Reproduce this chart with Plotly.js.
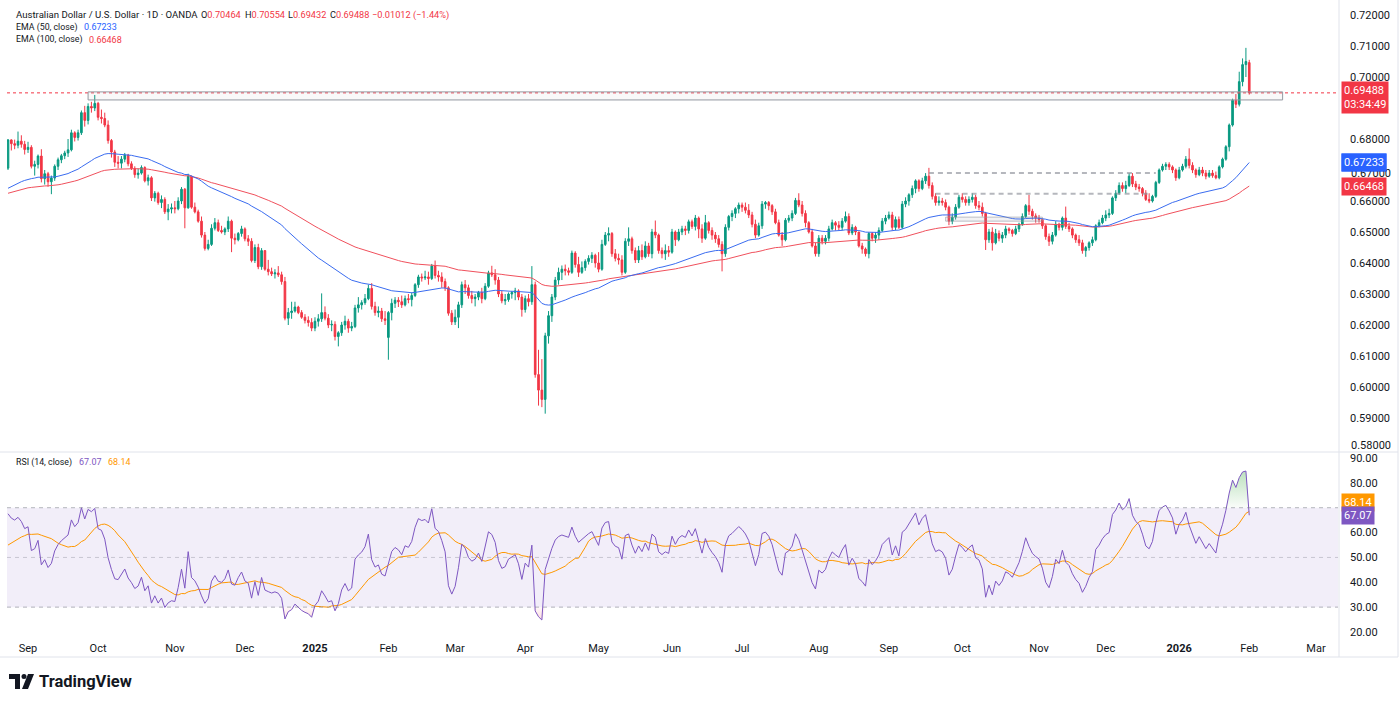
<!DOCTYPE html>
<html>
<head>
<meta charset="utf-8">
<script src="https://cdn.plot.ly/plotly-3.0.1.min.js"></script>
<style>
html,body{margin:0;padding:0;background:#ffffff;}
#chart{width:1400px;height:704px;}
</style>
</head>
<body>
<div id="chart"></div>
<script>
// ---------------- DATA ----------------
const firstDate = '2024-08-23';
const holidays = ['2024-12-25', '2025-01-01', '2025-12-25', '2026-01-01'];
const firstOpen = 0.6706;
const gapOpenDates = ['2025-02-03', '2026-02-02'];
const gapOpenValues = [0.6160, 0.70464];

const closes = [
 .6797,.6785,.6780,.6793,.6783,.6766,
 .6773,.6712,.6718,.6745,.6672,.6688,.6662,.6674,.6712,.6733,.6746,.6755,.6765,.6820,.6805,.6820,.6885,.6860,.6905,.6900,.6915,
 .6870,.6866,.6845,.6795,.6758,.6725,.6722,.6735,.6748,.6720,.6705,.6685,.6690,.6708,.6665,.6675,.6610,.6625,.6595,.6605,.6565,.6574,.6578,
 .6575,.6600,.6638,.6578,.6680,.6580,.6565,.6535,.6490,.6447,.6460,.6512,.6530,.6505,.6500,.6510,.6535,.6480,.6475,.6495,.6510,
 .6478,.6470,.6408,.6450,.6388,.6440,.6380,.6372,.6365,.6368,.6362,.6340,.6222,.6240,.6245,.6258,.6240,.6225,.6215,.6208,.6190,
 .6212,.6220,.6240,.6222,.6200,.6202,.6163,.6175,.6200,.6212,.6190,.6195,.6255,.6265,.6272,.6285,.6318,.6260,.6240,.6245,.6220,.6215,
 .6240,.6270,.6280,.6275,.6265,.6285,.6282,.6295,.6330,.6355,.6352,.6355,.6350,.6390,.6360,.6355,.6340,.6320,.6238,.6210,
 .6225,.6265,.6330,.6320,.6295,.6285,.6290,.6305,.6285,.6325,.6368,.6362,.6345,.6300,.6278,.6282,.6300,.6305,.6310,.6290,.6250,
 .6285,.6275,.6330,.6040,.5990,.5960,.6165,.6230,.6290,.6345,.6370,.6380,.6375,.6370,.6432,.6395,.6370,.6385,.6405,.6415,.6425,.6400,
 .6380,.6460,.6490,.6495,.6430,.6415,.6410,.6370,.6470,.6478,.6440,.6410,.6440,.6420,.6455,.6430,.6500,.6490,.6440,.6430,.6440,.6435,
 .6500,.6475,.6500,.6510,.6505,.6533,.6518,.6545,.6510,.6480,.6530,.6505,.6490,.6478,.6460,.6430,.6515,.6550,.6560,.6575,.6587,
 .6580,.6570,.6555,.6525,.6490,.6520,.6590,.6595,.6585,.6565,.6530,.6490,.6475,.6538,.6545,.6560,.6602,.6587,.6560,.6530,.6500,.6455,.6430,
 .6480,.6470,.6480,.6510,.6530,.6522,.6515,.6535,.6550,.6497,.6515,.6500,.6455,.6445,.6430,.6495,.6480,.6490,.6505,.6535,.6545,
 .6555,.6515,.6540,.6515,.6590,.6600,.6620,.6640,.6665,.6640,.6665,.6680,.6650,.6615,.6595,.6600,.6595,.6580,.6535,.6548,.6580,.6612,
 .6605,.6595,.6605,.6612,.6585,.6580,.6560,.6475,.6500,.6465,.6495,.6480,.6490,.6510,.6505,.6495,.6510,.6525,.6550,.6585,.6567,.6552,.6545,
 .6540,.6520,.6485,.6470,.6490,.6525,.6515,.6545,.6518,.6510,.6490,.6475,.6465,.6440,.6450,.6465,.6475,.6520,.6530,.6545,
 .6555,.6560,.6610,.6625,.6650,.6640,.6650,.6680,.6655,.6645,.6640,.6625,.6605,.6600,.6615,.6660,.6700,.6712,.6718,.6710,.6700,.6675,
 .6700,.6712,.6735,.6715,.6700,.6685,.6700,.6690,.6680,.6690,.6682,.6675,.6710,.6735,.6775,.6845,.6925,.6912,.6985,.7040,.7050,.69488
];
const highs = [
 .6800,.6799,.6798,.6824,.6812,.6794,
 .6791,.6780,.6730,.6750,.6767,.6700,.6694,.6682,.6718,.6740,.6752,.6762,.6800,.6830,.6825,.6830,.6892,.6907,.6915,.6920,.6942,
 .6920,.6895,.6885,.6860,.6800,.6765,.6745,.6745,.6755,.6752,.6728,.6712,.6705,.6715,.6712,.6685,.6680,.6632,.6630,.6618,.6612,.6590,.6592,
 .6600,.6612,.6645,.6642,.6688,.6682,.6595,.6572,.6550,.6500,.6475,.6525,.6545,.6540,.6520,.6515,.6550,.6540,.6495,.6500,.6520,
 .6515,.6490,.6480,.6460,.6462,.6448,.6440,.6410,.6385,.6380,.6390,.6372,.6355,.6255,.6275,.6275,.6262,.6248,.6235,.6228,.6222,
 .6225,.6235,.6302,.6260,.6235,.6215,.6212,.6180,.6210,.6230,.6220,.6210,.6265,.6290,.6280,.6300,.6330,.6335,.6275,.6260,.6255,.6245,
 .6245,.6285,.6290,.6290,.6295,.6295,.6300,.6305,.6335,.6362,.6366,.6375,.6372,.6397,.6408,.6375,.6370,.6350,.6325,.6248,
 .6250,.6275,.6340,.6345,.6330,.6310,.6300,.6310,.6320,.6335,.6375,.6391,.6380,.6355,.6310,.6300,.6305,.6310,.6320,.6315,.6300,
 .6295,.6300,.6390,.6340,.6120,.6090,.6175,.6245,.6300,.6355,.6385,.6392,.6395,.6385,.6440,.6438,.6420,.6405,.6412,.6425,.6435,.6430,
 .6435,.6475,.6500,.6515,.6500,.6445,.6430,.6425,.6480,.6515,.6485,.6450,.6455,.6460,.6470,.6465,.6510,.6537,.6495,.6450,.6460,.6455,
 .6510,.6505,.6510,.6520,.6520,.6540,.6540,.6555,.6550,.6525,.6555,.6535,.6515,.6500,.6490,.6470,.6525,.6555,.6570,.6580,.6595,
 .6595,.6595,.6590,.6565,.6540,.6530,.6600,.6600,.6600,.6590,.6575,.6540,.6500,.6545,.6555,.6570,.6610,.6625,.6600,.6570,.6535,.6510,.6465,
 .6490,.6490,.6490,.6520,.6540,.6535,.6535,.6545,.6566,.6560,.6525,.6520,.6500,.6465,.6450,.6500,.6500,.6500,.6515,.6545,.6555,
 .6566,.6565,.6550,.6550,.6600,.6612,.6625,.6650,.6670,.6670,.6675,.6690,.6707,.6660,.6625,.6615,.6610,.6605,.6585,.6560,.6590,.6620,
 .6625,.6615,.6615,.6625,.6620,.6600,.6595,.6565,.6510,.6515,.6510,.6505,.6500,.6520,.6515,.6510,.6520,.6530,.6560,.6590,.6620,.6575,.6560,
 .6555,.6545,.6525,.6495,.6500,.6535,.6530,.6550,.6582,.6530,.6515,.6495,.6490,.6475,.6455,.6470,.6485,.6525,.6540,.6555,
 .6570,.6575,.6615,.6635,.6660,.6660,.6665,.6690,.6690,.6665,.6655,.6645,.6635,.6625,.6620,.6665,.6705,.6720,.6725,.6725,.6715,.6705,
 .6710,.6720,.6745,.6770,.6725,.6705,.6710,.6710,.6700,.6700,.6700,.6695,.6715,.6740,.6780,.6850,.6930,.6945,.7017,.7060,.7094,.70554
];
const lows = [
 .6700,.6763,.6767,.6770,.6772,.6750,
 .6755,.6705,.6682,.6705,.6660,.6653,.6646,.6622,.6665,.6700,.6722,.6735,.6742,.6760,.6792,.6795,.6813,.6840,.6847,.6885,.6890,
 .6860,.6850,.6838,.6785,.6740,.6710,.6705,.6705,.6725,.6712,.6700,.6675,.6672,.6685,.6660,.6650,.6600,.6598,.6588,.6577,.6558,.6538,.6560,
 .6560,.6570,.6590,.6512,.6575,.6575,.6560,.6530,.6482,.6440,.6441,.6455,.6505,.6500,.6495,.6490,.6500,.6435,.6460,.6470,.6485,
 .6470,.6455,.6402,.6400,.6380,.6378,.6375,.6360,.6358,.6350,.6355,.6330,.6215,.6200,.6220,.6240,.6235,.6220,.6205,.6195,.6180,
 .6180,.6195,.6210,.6215,.6190,.6180,.6150,.6131,.6165,.6185,.6175,.6180,.6190,.6240,.6250,.6265,.6280,.6250,.6230,.6225,.6210,.6200,
 .6088,.6215,.6255,.6258,.6255,.6260,.6270,.6260,.6290,.6320,.6340,.6345,.6330,.6345,.6350,.6340,.6320,.6310,.6230,.6200,
 .6200,.6190,.6255,.6300,.6285,.6270,.6260,.6280,.6270,.6280,.6320,.6355,.6330,.6290,.6270,.6265,.6275,.6285,.6280,.6280,.6227,
 .6240,.6260,.6265,.6030,.5940,.5935,.5914,.6140,.6210,.6280,.6330,.6345,.6360,.6360,.6365,.6385,.6355,.6365,.6375,.6395,.6400,.6385,
 .6370,.6375,.6455,.6470,.6420,.6405,.6395,.6360,.6365,.6455,.6430,.6400,.6400,.6410,.6415,.6420,.6415,.6480,.6430,.6415,.6410,.6420,
 .6430,.6455,.6470,.6490,.6490,.6495,.6510,.6505,.6480,.6465,.6475,.6495,.6475,.6465,.6450,.6373,.6420,.6505,.6535,.6545,.6560,
 .6565,.6560,.6545,.6515,.6480,.6485,.6510,.6575,.6570,.6555,.6525,.6485,.6455,.6470,.6530,.6535,.6555,.6580,.6550,.6515,.6495,.6450,.6421,
 .6420,.6460,.6460,.6470,.6505,.6505,.6505,.6505,.6530,.6490,.6490,.6490,.6450,.6430,.6421,.6415,.6470,.6465,.6475,.6500,.6525,
 .6540,.6505,.6505,.6510,.6510,.6580,.6585,.6610,.6625,.6630,.6635,.6655,.6640,.6605,.6585,.6585,.6585,.6570,.6522,.6525,.6540,.6575,
 .6595,.6585,.6585,.6595,.6575,.6570,.6550,.6442,.6465,.6440,.6460,.6470,.6465,.6480,.6495,.6485,.6490,.6500,.6520,.6545,.6555,.6540,.6530,
 .6530,.6510,.6475,.6455,.6460,.6485,.6505,.6505,.6510,.6500,.6480,.6465,.6455,.6430,.6420,.6440,.6455,.6470,.6515,.6525,
 .6535,.6545,.6555,.6600,.6620,.6630,.6625,.6645,.6645,.6635,.6630,.6615,.6600,.6593,.6595,.6610,.6655,.6695,.6700,.6700,.6690,.6665,
 .6670,.6695,.6705,.6705,.6690,.6675,.6680,.6680,.6670,.6675,.6675,.6670,.6670,.6705,.6730,.6760,.6840,.6900,.6905,.6970,.7000,.69432
];

// indicator seeds and legend values
const emaFastPeriod = 50, emaSlowPeriod = 100;
const emaFastSeed = 0.6641, emaSlowSeed = 0.6625;
const rsiPeriod = 14, rsiSeedGain = 0.0018, rsiSeedLoss = 0.0012, rsiMaSeed = 54;
const legendEmaFast = 0.67233, legendEmaSlow = 0.66468;
const legendRsi = 67.07, legendRsiMa = 68.14;
const countdown = '03:34:49';

// price-scale ticks (0.69000 and 70.00 sit under the value badges in the reference;
// 0.58000 and 0.67000 are drawn as labels nudged clear of the neighbouring texts)
const priceTicks = [0.59, 0.60, 0.61, 0.62, 0.63, 0.64, 0.65, 0.66, 0.68, 0.70, 0.71, 0.72];
const nudgedPriceLabels = [0.58, 0.67];
const nudgedPriceShift = [4, -3];
const rsiTicks = [20, 30, 40, 50, 60, 80, 90];

// analyst drawings
const boxDates = ['2024-09-26', '2026-02-16'];
const boxPrices = [0.6926, 0.6952];
const dashDatesA = ['2025-09-17', '2025-12-22'];
const dashPriceA = 0.6690;
const dashDatesB = ['2025-09-19', '2025-12-18'];
const dashPriceB = 0.6623;
const zoneDates = ['2025-09-24', '2025-11-04'];
const zonePrices = [0.6535, 0.6548];

// ---------------- CALENDAR ----------------
function tradingDays(start, count, skip) {
  const out = [];
  const d = new Date(start + 'T00:00:00Z');
  while (out.length < count) {
    const wd = d.getUTCDay();
    const s = d.toISOString().slice(0, 10);
    if (wd !== 0 && wd !== 6 && skip.indexOf(s) < 0) out.push(s);
    d.setUTCDate(d.getUTCDate() + 1);
  }
  return out;
}
const calendar = tradingDays(firstDate, 410, holidays);
const n = closes.length;
const dates = calendar.slice(0, n);
const xs = dates.map((d, i) => i);
const idx = d => calendar.indexOf(d);

const opens = closes.map((c, i) => {
  const g = gapOpenDates.indexOf(dates[i]);
  if (g >= 0) return gapOpenValues[g];
  return i === 0 ? firstOpen : closes[i - 1];
});

// month ticks
const monthNames = ['Jan','Feb','Mar','Apr','May','Jun','Jul','Aug','Sep','Oct','Nov','Dec'];
const tickvals = [], ticktext = [];
for (let i = 1; i < calendar.length; i++) {
  if (calendar[i].slice(5, 7) !== calendar[i - 1].slice(5, 7)) {
    const m = parseInt(calendar[i].slice(5, 7), 10);
    tickvals.push(i);
    ticktext.push(m === 1 ? '<b>' + calendar[i].slice(0, 4) + '</b>' : monthNames[m - 1]);
  }
}

// ---------------- INDICATORS ----------------
function ema(src, period, seed) {
  const k = 2 / (period + 1);
  let e = seed;
  return src.map((v, i) => { if (i > 0) e = v * k + e * (1 - k); return e; });
}
const emaFast = ema(closes, emaFastPeriod, emaFastSeed);
const emaSlow = ema(closes, emaSlowPeriod, emaSlowSeed);

const rsi = [];
{
  let ag = rsiSeedGain, al = rsiSeedLoss;
  for (let i = 0; i < n; i++) {
    const prev = i === 0 ? firstOpen : closes[i - 1];
    const ch = closes[i] - prev;
    ag = (ag * (rsiPeriod - 1) + Math.max(ch, 0)) / rsiPeriod;
    al = (al * (rsiPeriod - 1) + Math.max(-ch, 0)) / rsiPeriod;
    rsi.push(100 - 100 / (1 + ag / al));
  }
}
const rsiMa = rsi.map((v, i) => {
  let s = 0;
  for (let j = i - rsiPeriod + 1; j <= i; j++) s += j < 0 ? rsiMaSeed : rsi[j];
  return s / rsiPeriod;
});

// ---------------- LAYOUT HELPERS ----------------
const L = 7, R = 1338, T = 7, B = 640;
const px = x => (x - L) / (R - L);
const py = y => (B - y) / (B - T);
const FONT = 'Roboto, "Liberation Sans", Arial, sans-serif';
const TXT = '#131722';
const UP = '#089981', DOWN = '#F23645';

const traces = [
  {
    type: 'candlestick', x: xs, open: opens, high: highs, low: lows, close: closes,
    xaxis: 'x', yaxis: 'y', whiskerwidth: 0,
    increasing: { line: { color: UP, width: 1 }, fillcolor: UP },
    decreasing: { line: { color: DOWN, width: 1 }, fillcolor: DOWN },
    hoverinfo: 'skip'
  },
  { type: 'scatter', mode: 'lines', x: xs, y: emaSlow, yaxis: 'y', line: { color: '#F0505C', width: 1 }, hoverinfo: 'skip' },
  { type: 'scatter', mode: 'lines', x: xs, y: emaFast, yaxis: 'y', line: { color: '#3A6CF0', width: 1 }, hoverinfo: 'skip' },
  { type: 'scatter', mode: 'lines', x: xs, y: xs.map(() => 70), yaxis: 'y2', line: { width: 0 }, hoverinfo: 'skip' },
  { type: 'scatter', mode: 'lines', x: xs, y: rsi.map(v => Math.max(v, 70)), yaxis: 'y2', line: { width: 0 },
    fill: 'tonexty', fillcolor: 'rgba(76,175,80,0.25)',
    fillgradient: { type: 'vertical', start: 70, stop: 88, colorscale: [[0, 'rgba(76,175,80,0.03)'], [1, 'rgba(76,175,80,0.45)']] },
    hoverinfo: 'skip' },
  { type: 'scatter', mode: 'lines', x: xs, y: xs.map(() => 30), yaxis: 'y2', line: { width: 0 }, hoverinfo: 'skip' },
  { type: 'scatter', mode: 'lines', x: xs, y: rsi.map(v => Math.min(v, 30)), yaxis: 'y2', line: { width: 0 },
    fill: 'tonexty', fillcolor: 'rgba(242,54,69,0.2)',
    fillgradient: { type: 'vertical', start: 15, stop: 30, colorscale: [[0, 'rgba(242,54,69,0.45)'], [1, 'rgba(242,54,69,0.03)']] },
    hoverinfo: 'skip' },
  { type: 'scatter', mode: 'lines', x: xs, y: rsiMa, yaxis: 'y2', line: { color: '#FF9800', width: 1 }, hoverinfo: 'skip' },
  { type: 'scatter', mode: 'lines', x: xs, y: rsi, yaxis: 'y2', line: { color: '#7E57C2', width: 1 }, hoverinfo: 'skip' }
];

const grey = 'rgba(120,123,134,0.55)';
const shapes = [
  { type: 'rect', xref: 'paper', yref: 'y2', x0: 0, x1: 1, y0: 30, y1: 70, fillcolor: 'rgba(126,87,194,0.1)', line: { width: 0 }, layer: 'below' },
  { type: 'line', xref: 'paper', yref: 'y2', x0: 0, x1: 1, y0: 70, y1: 70, line: { color: grey, width: 1, dash: '4px,4px' } },
  { type: 'line', xref: 'paper', yref: 'y2', x0: 0, x1: 1, y0: 50, y1: 50, line: { color: 'rgba(120,123,134,0.35)', width: 1, dash: '4px,4px' } },
  { type: 'line', xref: 'paper', yref: 'y2', x0: 0, x1: 1, y0: 30, y1: 30, line: { color: grey, width: 1, dash: '4px,4px' } },
  { type: 'line', xref: 'paper', yref: 'y', x0: 0, x1: 1, y0: closes[n - 1], y1: closes[n - 1], line: { color: DOWN, width: 1, dash: 'dot' } },
  { type: 'rect', xref: 'x', yref: 'y', x0: idx(boxDates[0]), x1: idx(boxDates[1]), y0: boxPrices[0], y1: boxPrices[1],
    line: { color: '#9598A1', width: 1 }, fillcolor: 'rgba(149,152,161,0.06)' },
  { type: 'line', xref: 'x', yref: 'y', x0: idx(dashDatesA[0]), x1: idx(dashDatesA[1]), y0: dashPriceA, y1: dashPriceA,
    line: { color: 'rgba(149,152,161,0.7)', width: 2, dash: '5px,4px' } },
  { type: 'line', xref: 'x', yref: 'y', x0: idx(dashDatesB[0]), x1: idx(dashDatesB[1]), y0: dashPriceB, y1: dashPriceB,
    line: { color: 'rgba(149,152,161,0.7)', width: 2, dash: '5px,4px' } },
  { type: 'rect', xref: 'x', yref: 'y', x0: idx(zoneDates[0]), x1: idx(zoneDates[1]), y0: zonePrices[0], y1: zonePrices[1],
    line: { color: 'rgba(149,152,161,0.6)', width: 1 }, fillcolor: 'rgba(149,152,161,0.12)' },
  { type: 'line', xref: 'paper', yref: 'paper', x0: px(1339), x1: px(1339), y0: py(0), y1: py(657), line: { color: '#E0E3EB', width: 1 } },
  { type: 'line', xref: 'paper', yref: 'paper', x0: px(0), x1: px(1398), y0: py(452), y1: py(452), line: { color: '#E0E3EB', width: 1 } },
  { type: 'line', xref: 'paper', yref: 'paper', x0: px(0), x1: px(1398), y0: py(657), y1: py(657), line: { color: '#E0E3EB', width: 1 } },
  { type: 'line', xref: 'paper', yref: 'paper', x0: px(1398), x1: px(1398), y0: py(0), y1: py(657), line: { color: '#E0E3EB', width: 1 } },
  { type: 'path', xref: 'paper', yref: 'paper', fillcolor: TXT, line: { width: 0 },
    path: 'M ' + px(9) + ',' + py(674) + ' L ' + px(20) + ',' + py(674) + ' L ' + px(20) + ',' + py(689) + ' L ' + px(15) + ',' + py(689) + ' L ' + px(15) + ',' + py(679) + ' L ' + px(9) + ',' + py(679) + ' Z' },
  { type: 'circle', xref: 'paper', yref: 'paper', fillcolor: TXT, line: { width: 0 },
    x0: px(21.5), x1: px(26.5), y0: py(674), y1: py(679) },
  { type: 'path', xref: 'paper', yref: 'paper', fillcolor: TXT, line: { width: 0 },
    path: 'M ' + px(28) + ',' + py(674) + ' L ' + px(34) + ',' + py(674) + ' L ' + px(28) + ',' + py(689) + ' L ' + px(22) + ',' + py(689) + ' Z' }
];

const red = '#F23645';
const piece = (t, x, y, color, size) => ({ xref: 'paper', yref: 'paper', x: px(x), y: py(y), xanchor: 'left', yanchor: 'middle',
  text: t, showarrow: false, align: 'left', font: { family: FONT, size: size || 9.2, color: color || TXT } });
const lastO = opens[n - 1], lastH = highs[n - 1], lastL = lows[n - 1], lastC = closes[n - 1];
const chg = lastC - closes[n - 2];
const chgPct = chg / closes[n - 2] * 100;
const fmtSigned = (v, d) => (v < 0 ? '\u2212' : '+') + Math.abs(v).toFixed(d);
const rv = v => '<span style="color:' + red + '">' + v + '</span>';

const badge = (text, yref, y, bg, yshift) => ({
  xref: 'paper', yref: yref, x: px(1341), y: y, xanchor: 'left', yanchor: 'middle', yshift: yshift || 0,
  text: text, showarrow: false, bgcolor: bg, borderpad: 2, align: 'left',
  font: { family: FONT, size: 11, color: '#ffffff' }
});

const annotations = [
  piece('Australian Dollar / U.S. Dollar \u00b7 1D \u00b7 OANDA', 14, 15, TXT, 9.6),
  piece('O' + rv(lastO.toFixed(5)), 199, 15),
  piece('H' + rv(lastH.toFixed(5)), 243, 15),
  piece('L' + rv(lastL.toFixed(5)), 286, 15),
  piece('C' + rv(lastC.toFixed(5)), 328, 15),
  piece(fmtSigned(chg, 5) + ' (' + fmtSigned(chgPct, 2) + '%)', 370, 15, red),
  piece('EMA (50, close)', 14, 27.5, TXT, 8.8),
  piece(legendEmaFast.toFixed(5), 82, 27.5, '#2962FF', 9),
  piece('EMA (100, close)', 14, 40, TXT, 8.8),
  piece(legendEmaSlow.toFixed(5), 87, 40, red, 9),
  piece('RSI (14, close)', 14, 462, TXT, 8.8),
  piece(legendRsi.toFixed(2), 77, 462, '#7E57C2', 9),
  piece(legendRsiMa.toFixed(2), 106, 462, '#FF9800', 9),
  badge(lastC.toFixed(5) + '<br>' + countdown, 'y', lastC, red, -5),
  badge(legendEmaFast.toFixed(5), 'y', legendEmaFast, '#2962FF', 0),
  badge(legendEmaSlow.toFixed(5), 'y', legendEmaSlow, red, 0),
  badge(legendRsiMa.toFixed(2), 'y2', legendRsiMa, '#FF9800', 10),
  badge(legendRsi.toFixed(2), 'y2', legendRsi, '#7E57C2', 0),
  { xref: 'paper', yref: 'paper', x: px(37), y: py(681.5), xanchor: 'left', yanchor: 'middle', showarrow: false,
    text: '<b>TradingView</b>', font: { family: FONT, size: 16.5, color: TXT } }
];
nudgedPriceLabels.forEach((v, k) => annotations.push({
  xref: 'paper', yref: 'y', x: px(1349), y: v, xanchor: 'left', yanchor: 'middle', yshift: nudgedPriceShift[k],
  text: v.toFixed(5), showarrow: false, font: { family: FONT, size: 11, color: TXT }
}));
// keep the blue badge drawn on top of the nudged 0.67000 label
annotations.push(badge(legendEmaFast.toFixed(5), 'y', legendEmaFast, '#2962FF', 0));

const layout = {
  width: 1400, height: 704,
  margin: { l: L, r: 1400 - R, t: T, b: 704 - B, pad: 0 },
  paper_bgcolor: '#ffffff', plot_bgcolor: '#ffffff',
  showlegend: false, hovermode: false, dragmode: false,
  font: { family: FONT, size: 11, color: TXT },
  xaxis: {
    type: 'linear', range: [-0.3, 398.6], anchor: 'y2',
    tickvals: tickvals, ticktext: ticktext, showgrid: false, zeroline: false, showline: false,
    ticks: '', tickfont: { family: FONT, size: 11, color: TXT }, rangeslider: { visible: false }, fixedrange: true
  },
  yaxis: {
    domain: [py(451), 1], range: [0.72 - (451 - 15) / 3100, 0.72 - (7 - 15) / 3100], side: 'right', anchor: 'x',
    tickmode: 'array', tickvals: priceTicks, tickformat: '.5f', showgrid: false, zeroline: false, showline: false,
    ticks: '', ticklabelstandoff: 11, tickfont: { family: FONT, size: 11, color: TXT }, fixedrange: true
  },
  yaxis2: {
    domain: [0, py(453)], range: [20 - (640 - 632) / 2.486, 90 + (458 - 453) / 2.486], side: 'right', anchor: 'x',
    tickmode: 'array', tickvals: rsiTicks, tickformat: '.2f', showgrid: false, zeroline: false, showline: false,
    ticks: '', ticklabelstandoff: 11, tickfont: { family: FONT, size: 11, color: TXT }, fixedrange: true
  },
  shapes: shapes,
  annotations: annotations
};

Plotly.newPlot('chart', traces, layout, { displayModeBar: false, staticPlot: true });
</script>
</body>
</html>
